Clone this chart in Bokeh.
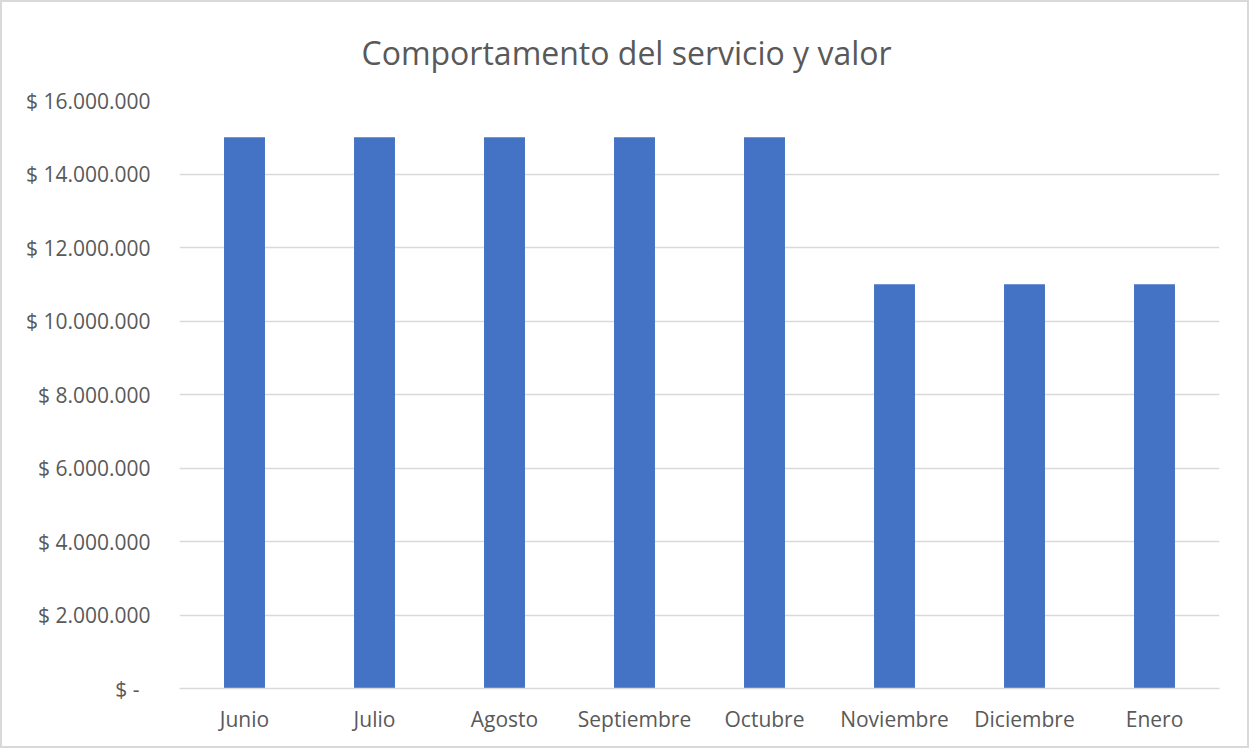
from bokeh.plotting import figure
from bokeh.models import ColumnDataSource, CustomJSTickFormatter, FixedTicker, Title
from bokeh.embed import file_html
from bokeh.resources import INLINE

months = ["Junio", "Julio", "Agosto", "Septiembre", "Octubre", "Noviembre", "Diciembre", "Enero"]
values = [15000000, 15000000, 15000000, 15000000, 15000000, 11000000, 11000000, 11000000]
y_ticks = [0, 2000000, 4000000, 6000000, 8000000, 10000000, 12000000, 14000000, 16000000]

src = ColumnDataSource(dict(month=months, value=values))

FONT = "Open Sans"
GREY = "#595959"

p = figure(x_range=months, y_range=(0, 16000000), width=1249, height=748,
           output_backend="svg", toolbar_location=None,
           min_border_left=177, min_border_right=32, min_border_top=97, min_border_bottom=62)
p.styles = {"border": "2px solid #d9d9d9", "box-sizing": "border-box"}

p.vbar(x="month", top="value", width=0.315, source=src, color="#4472c4", line_color=None)

t = Title(text="Comportamento del servicio y valor", align="left",
          text_font=FONT, text_font_size="32px", text_color=GREY,
          text_font_style="normal", offset=182, standoff=53)
p.add_layout(t, "above")

p.outline_line_color = None
p.xgrid.grid_line_color = None
p.ygrid.grid_line_color = "#d9d9d9"
p.ygrid.grid_line_width = 1.5

p.yaxis.ticker = FixedTicker(ticks=y_ticks)
p.yaxis.formatter = CustomJSTickFormatter(code="""
if (tick == 0) { return "$ -  "; }
var s = Math.round(tick).toString();
return "$ " + s.replace(/\\B(?=(\\d{3})+(?!\\d))/g, ".");
""")
for ax in (p.xaxis, p.yaxis):
    ax.axis_line_color = None
    ax.major_tick_line_color = None
    ax.minor_tick_line_color = None
    ax.major_label_text_font = FONT
    ax.major_label_text_color = GREY
p.yaxis.major_label_text_font_size = "21px"
p.xaxis.major_label_text_font_size = "21px"
p.yaxis.major_label_standoff = 23
p.xaxis.major_label_standoff = 10
p.x_range.range_padding = 0
p.xaxis.axis_line_color = "#d9d9d9"
p.xaxis.axis_line_width = 1.5

open("out.html", "w").write(file_html(p, INLINE))
